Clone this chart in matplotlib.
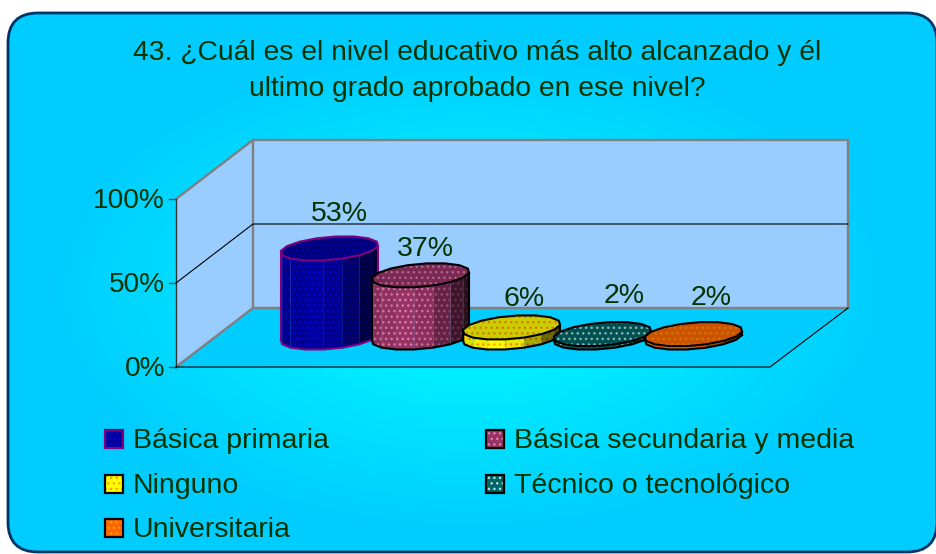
import numpy as np
import matplotlib
matplotlib.use("Agg")
import matplotlib.pyplot as plt
from matplotlib.patches import FancyBboxPatch, Polygon, Rectangle
from matplotlib.colors import LinearSegmentedColormap, to_rgb

plt.rcParams["font.family"] = ["Liberation Sans", "DejaVu Sans"]
plt.rcParams["hatch.linewidth"] = 1.0

title = "43. ¿Cuál es el nivel educativo más alto alcanzado y él\nultimo grado aprobado en ese nivel?"
categories = ["Básica primaria", "Básica secundaria y media", "Ninguno",
              "Técnico o tecnológico", "Universitaria"]
values = [53, 37, 6, 2, 2]
ticks = [0, 50, 100]
colors = ["#000099", "#993366", "#FFFF00", "#006666", "#FF6600"]
dot_colors = ["#0000E0", "#E080B0", "#FFA000", "#B0E0E0", "#FF9900"]
edge_colors = ["#800080", "#000000", "#000000", "#000000", "#000000"]
label_dx = [10, 5, 13, 22, 18]
label_gap = [34, 26, 28, 38, 36]

TEXT = "#003300"
X0, X1, Y0 = 176, 770, 367      # front edge of the floor, pixels
DX, DY = 77, 59                 # depth of the box
PX_PER_PCT = 1.68
BAR_STEP = 91


def y_of(pct):
    return Y0 - pct * PX_PER_PCT


def shade(color, f):
    return tuple(min(1, c * f) for c in to_rgb(color))


def ring(cx, cy, n=16):
    t = np.linspace(0, 2 * np.pi, n, endpoint=False) + np.pi / n
    xs = cx + 46.4 * np.cos(t) + 15.7 * np.sin(t)
    ys = cy - 12.2 * np.sin(t)
    return xs, ys


fig = plt.figure(figsize=(9.36, 5.54), dpi=100)
ax = fig.add_axes([0, 0, 1, 1])
ax.set_xlim(0, 936)
ax.set_ylim(554, 0)
ax.axis("off")

# background, light in the middle and darker towards the border
box = FancyBboxPatch((8, 13), 929, 539, boxstyle="round,pad=0,rounding_size=30",
                     fc="none", ec="#003366", lw=2, zorder=3)
ax.add_patch(box)
cmap = LinearSegmentedColormap.from_list("bg", ["#00FFFF", "#00CCFF"])
gx, gy = np.meshgrid(np.arange(936), np.arange(554))
dist = np.hypot((gx - 470) / 470, (gy - 290) / 270)
im = ax.imshow(np.clip(dist / 0.9, 0, 1), cmap=cmap, vmin=0, vmax=1,
               extent=(0, 936, 554, 0), aspect="auto", zorder=1)
im.set_clip_path(box)

# walls and floor
back_l, back_r = X0 + DX, X1 + DX + 1
ax.add_patch(Polygon([(back_l, y_of(0) - DY), (back_r, y_of(0) - DY),
                      (back_r, y_of(100) - DY), (back_l, y_of(100) - DY)],
                     fc="#99CCFF", ec="none", zorder=4))
ax.add_patch(Polygon([(X0, y_of(0)), (back_l, y_of(0) - DY), (back_l, y_of(100) - DY), (X0, y_of(100))],
                     fc="#99CCFF", ec="none", zorder=4))
ax.add_patch(Polygon([(X0, Y0), (back_l, Y0 - DY), (back_r, Y0 - DY), (X1, Y0)],
                     fc="#00CCFF", ec="none", zorder=4))
ax.plot([X0, back_l, back_r, back_r, back_l, X0],
        [y_of(100), y_of(100) - DY, y_of(100) - DY, y_of(0) - DY, y_of(0) - DY, y_of(0)],
        color="#808080", lw=1.7, zorder=5, solid_joinstyle="miter")
ax.plot([back_l, back_l], [y_of(100) - DY, y_of(0) - DY], color="#808080", lw=1.7, zorder=5)
ax.plot([X0, X0], [y_of(0), y_of(100)], color="#303838", lw=1, zorder=6)
ax.plot([X0, X1, back_r], [Y0, Y0, Y0 - DY], color="black", lw=0.8, zorder=6)
ax.plot([X0, back_l, back_r], [y_of(50), y_of(50) - DY, y_of(50) - DY], color="black", lw=0.8, zorder=6)
for t in ticks:
    ax.plot([X0 - 7, X0], [y_of(t), y_of(t)], color="#1F5F60", lw=1, zorder=5)
    ax.text(X0 - 11, y_of(t) + 2.5, f"{t}%", ha="right", va="center", fontsize=20.2, color=TEXT, zorder=8)

# cylinders
mid = (X0 + X1 + DX) / 2
for i, v in enumerate(values):
    cx = mid + (i - 2) * BAR_STEP
    base = y_of(0) - DY / 2
    top = base - v * PX_PER_PCT
    xs, ys = ring(cx, base)
    xt, yt = ring(cx, top)
    n = len(xs)
    z = 10 + i
    lo = min(range(n), key=lambda k: xs[k])
    hi = max(range(n), key=lambda k: xs[k])
    # facets along the front, from the leftmost vertex to the rightmost
    path = [lo]
    k = lo
    while k != hi:
        k = (k + 1) % n
        path.append(k)
    for k, j in zip(path[:-1], path[1:]):
        pos = ((xs[k] + xs[j]) / 2 - cx) / 49
        f = 1.0 - 0.22 * abs(pos + 0.35) if pos < 0.2 else 0.85 - 0.8 * (pos - 0.2)
        ax.add_patch(Polygon([(xs[k], ys[k]), (xs[j], ys[j]), (xt[j], yt[j]), (xt[k], yt[k])],
                             fc=shade(colors[i], f), ec=shade(dot_colors[i], f),
                             hatch="...", lw=0, zorder=z))
        ax.plot([xt[k], xs[k]], [yt[k], ys[k]], color=shade(dot_colors[i], 0.8), lw=0.4, alpha=0.5, zorder=z)
    # top face
    f_top = 0.8
    ax.add_patch(Polygon(np.column_stack([xt, yt]), fc=shade(colors[i], f_top),
                         ec=shade(dot_colors[i], f_top), hatch="...", lw=0, zorder=z))
    ax.add_patch(Polygon(np.column_stack([xt, yt]), fc="none", ec=edge_colors[i], lw=1.5, zorder=z))
    # outline of the body
    ax.plot(xs[path], ys[path], color=edge_colors[i], lw=1.5, zorder=z)
    ax.plot([xs[lo], xt[lo]], [ys[lo], yt[lo]], color=edge_colors[i], lw=1.5, zorder=z)
    ax.plot([xs[hi], xt[hi]], [ys[hi], yt[hi]], color=edge_colors[i], lw=1.5, zorder=z)
    ax.text(cx + label_dx[i], top - label_gap[i], f"{v}%", ha="center", va="center",
            fontsize=20.5, color=TEXT, zorder=20)

ax.text(477, 71, title, ha="center", va="center", fontsize=20.3, color=TEXT,
        linespacing=1.47, zorder=20)

# legend
legend_x = [105, 486, 105, 486, 105]
legend_y = [439, 439, 484, 484, 528]
for i, name in enumerate(categories):
    ax.add_patch(Rectangle((legend_x[i], legend_y[i] - 9), 18, 18, fc=colors[i], ec=dot_colors[i],
                           hatch="...", lw=0, zorder=20))
    ax.add_patch(Rectangle((legend_x[i], legend_y[i] - 9), 18, 18, fc="none", ec=edge_colors[i],
                           lw=1.6, zorder=21))
    ax.text(legend_x[i] + 28, legend_y[i] + 2, name, ha="left", va="center", fontsize=20.5, color=TEXT, zorder=21)

fig.savefig("out.png", dpi=100)
